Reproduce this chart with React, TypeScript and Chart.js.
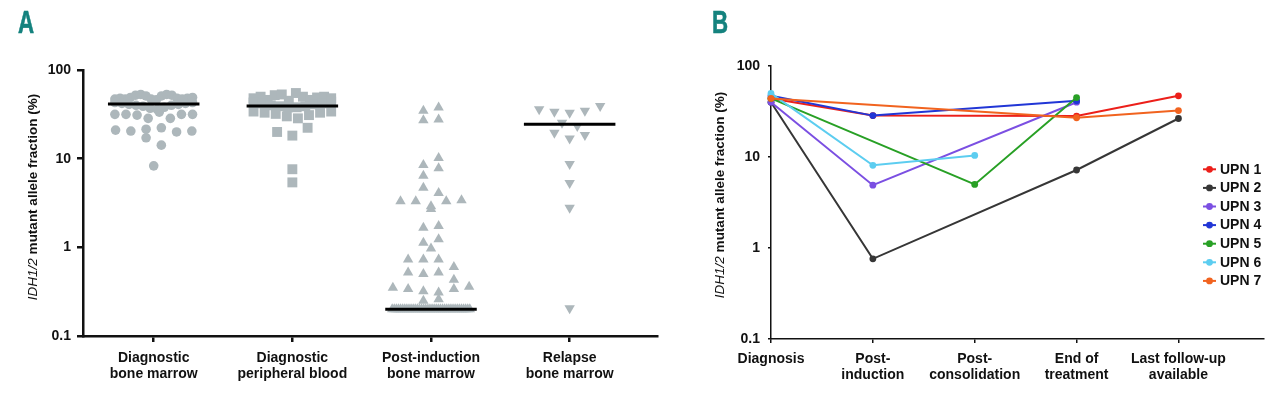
import React, { useEffect, useRef } from "react";
import { Chart, registerables } from "chart.js";

Chart.register(...registerables);

// ---------- Panel A data ----------
const groupLabels = [
  ["Diagnostic", "bone marrow"],
  ["Diagnostic", "peripheral blood"],
  ["Post-induction", "bone marrow"],
  ["Relapse", "bone marrow"],
];
const diagnosticBM = [
  47, 48, 47, 49, 52, 53, 51, 47, 46, 51, 53, 52, 48, 47, 48, 49,
  43, 42, 41, 40, 39, 37, 36, 38, 40, 41, 42, 43,
  31.6, 31.6, 31, 28.5, 33.5, 28.5, 31.6, 31.6,
  21, 20.5, 21.5, 22.3, 20, 20.5,
  17.2, 14.2,
  8.3,
];
const diagnosticPB = [
  48, 50, 46, 52, 53, 45, 55, 50, 46, 49, 50, 48,
  43, 42, 40, 39, 38, 38, 39, 41, 42, 44,
  34, 33, 32, 30, 28.5, 31, 33, 34,
  20, 18.2, 22.3,
  7.6,
  5.4,
];
const postInductionBM = [
  34.7, 37.8, 27.2, 27.6, 8.5, 10.2, 6.4, 7.8, 4.7, 4.1,
  3.3, 3.3, 2.9, 3.3, 3.4, 2.7, 1.66, 1.74, 1.13, 1.23, 0.97,
  0.73, 0.73, 0.73, 0.6, 0.52, 0.5, 0.52, 0.43,
  0.35, 0.34, 0.32, 0.31, 0.34, 0.36, 0.25, 0.26,
  0.2, 0.2, 0.2, 0.2, 0.2, 0.2, 0.2, 0.2, 0.2, 0.2,
  0.2, 0.2, 0.2, 0.2, 0.2, 0.2, 0.2, 0.2, 0.2, 0.2,
  0.2, 0.2, 0.2, 0.2, 0.2, 0.2, 0.2, 0.2, 0.2, 0.2,
  0.2, 0.2, 0.2, 0.2, 0.2, 0.2, 0.2, 0.2,
];
const relapseBM = [
  36, 33.8, 33, 34.7, 39.2, 25.4, 23.3, 19.6, 16.9, 18.5, 8.7, 5.3, 2.8, 0.205,
];
const groupMedians = [41.3, 39.2, 0.2, 24.4];
const yTickValues = [0.1, 1, 10, 100];

// ---------- Panel B data ----------
const stageLabels = [
  ["Diagnosis"],
  ["Post-", "induction"],
  ["Post-", "consolidation"],
  ["End of", "treatment"],
  ["Last follow-up", "available"],
];
const upnLabels = ["UPN 1", "UPN 2", "UPN 3", "UPN 4", "UPN 5", "UPN 6", "UPN 7"];
const upn1 = [44, 28.5, null, 28.2, 47];
const upn2 = [40, 0.76, null, 7.2, 26.5];
const upn3 = [40, 4.9, null, 40, null];
const upn4 = [47, 28.5, null, 41.5, null];
const upn5 = [44, null, 5.0, 45, null];
const upn6 = [50, 8.1, 10.4, null, null];
const upn7 = [44, null, null, 27, 32.4];
const upnSeries = [upn1, upn2, upn3, upn4, upn5, upn6, upn7];
const upnColors = ["#ec1f1a", "#363636", "#7b4fe2", "#2136d6", "#28a025", "#5ccdf0", "#f1631f"];

// ---------- styling ----------
const FONT = "'Liberation Sans', Arial, Helvetica, sans-serif";
const GRAY = "#adb7bb";
const INK = "#111111";
const TEAL = "#14827e";

// beeswarm-like layout: values of similar size share a row, centred on the category
const ROW_SPAN = 0.09; // decades
const STEP = 0.11; // category units
const MAX_W = 0.56; // category units
function swarm(values: number[], center: number) {
  const order = values.map((_, i) => i).sort((a, b) => values[b] - values[a]);
  const rows: number[][] = [];
  let cur: number[] = [];
  let top = Infinity;
  for (const i of order) {
    const l = Math.log10(values[i]);
    if (cur.length && top - l < ROW_SPAN) cur.push(i);
    else {
      if (cur.length) rows.push(cur);
      cur = [i];
      top = l;
    }
  }
  if (cur.length) rows.push(cur);
  const pts: { x: number; y: number }[] = [];
  for (const r of rows) {
    r.sort((a, b) => a - b);
    const n = r.length;
    const step = n > 1 ? Math.min(STEP, MAX_W / (n - 1)) : 0;
    r.forEach((i, k) => pts.push({ x: center + (k - (n - 1) / 2) * step, y: values[i] }));
  }
  return pts;
}

const mixedTitle = {
  id: "mixedTitle",
  afterDraw(chart: any, _args: any, opts: any) {
    const ctx = chart.ctx;
    const parts = opts.parts as { text: string; font: string }[];
    ctx.save();
    ctx.translate(opts.x, opts.y);
    ctx.rotate(-Math.PI / 2);
    const widths = parts.map((p) => {
      ctx.font = p.font;
      return ctx.measureText(p.text).width;
    });
    const total = widths.reduce((a, b) => a + b, 0);
    let x = -total / 2;
    ctx.textBaseline = "middle";
    ctx.textAlign = "left";
    ctx.fillStyle = INK;
    parts.forEach((p, i) => {
      ctx.font = p.font;
      ctx.fillText(p.text, x, 0);
      x += widths[i];
    });
    ctx.restore();
  },
};

const sideLegend = {
  id: "sideLegend",
  afterDraw(chart: any, _args: any, opts: any) {
    if (!opts || !opts.show) return;
    const ctx = chart.ctx;
    ctx.save();
    chart.data.datasets.forEach((ds: any, i: number) => {
      const y = opts.top + i * opts.gap;
      ctx.strokeStyle = ds.borderColor;
      ctx.lineWidth = 2;
      ctx.beginPath();
      ctx.moveTo(opts.x, y);
      ctx.lineTo(opts.x + 13, y);
      ctx.stroke();
      ctx.fillStyle = ds.borderColor;
      ctx.beginPath();
      ctx.arc(opts.x + 6.5, y, 3.4, 0, Math.PI * 2);
      ctx.fill();
      ctx.fillStyle = INK;
      ctx.font = `bold 14px ${FONT}`;
      ctx.textBaseline = "middle";
      ctx.textAlign = "left";
      ctx.fillText(ds.label, opts.x + 17, y + 0.5);
    });
    ctx.restore();
  },
};

const titleParts = [
  { text: "IDH1/2", font: `italic 13.5px ${FONT}` },
  { text: " mutant allele fraction (%)", font: `bold 13.5px ${FONT}` },
];

function PanelA() {
  const ref = useRef<HTMLCanvasElement>(null);
  useEffect(() => {
    const groups = [diagnosticBM, diagnosticPB, postInductionBM, relapseBM];
    const styles = ["circle", "rect", "triangle", "triangle"];
    const rotations = [0, 0, 0, 180];
    const radii = [4.8, 7, 6, 6];
    const pointSets = groups.map((vals, g) => ({
      label: groupLabels[g].join(" "),
      data: swarm(vals, g),
      pointStyle: styles[g],
      pointRotation: rotations[g],
      pointRadius: radii[g],
      pointBackgroundColor: GRAY,
      pointBorderWidth: 0,
      showLine: false,
      order: 2,
      clip: false,
    }));
    const medianSets = groupMedians.map((m, g) => ({
      label: "median",
      data: [
        { x: g - 0.33, y: m },
        { x: g + 0.33, y: m },
      ],
      showLine: true,
      borderColor: "#000",
      borderWidth: 3,
      borderCapStyle: "butt",
      pointRadius: 0,
      order: 1,
      clip: false,
    }));
    const chart = new Chart(ref.current!, {
      type: "scatter",
      data: { datasets: [...pointSets, ...medianSets] as any },
      plugins: [mixedTitle as any],
      options: {
        animation: false,
        responsive: false,
        events: [],
        layout: { padding: { left: 0, top: 70, right: 8, bottom: 0 } },
        plugins: {
          legend: { display: false },
          tooltip: { enabled: false },
          mixedTitle: { x: 33.7, y: 197, parts: titleParts },
        } as any,
        scales: {
          x: {
            type: "linear",
            min: -0.51,
            max: 3.63,
            afterBuildTicks: (s: any) => {
              s.ticks = groupLabels.map((_, i) => ({ value: i }));
            },
            afterFit: (s: any) => {
              s.height = 62;
            },
            ticks: {
              autoSkip: false,
              maxRotation: 0,
              padding: 8,
              color: INK,
              font: { family: FONT, size: 14, weight: "bold", lineHeight: 1.15 },
              callback: (v: any) => groupLabels[v as number] as any,
            },
            grid: { display: true, drawOnChartArea: false, drawTicks: true, tickLength: 6, color: INK, lineWidth: 2.5 },
            border: { display: true, color: INK, width: 2.5 },
          },
          y: {
            type: "logarithmic",
            min: 0.1,
            max: 100,
            afterBuildTicks: (s: any) => {
              s.ticks = yTickValues.map((v) => ({ value: v }));
            },
            afterFit: (s: any) => {
              s.width = 83;
            },
            ticks: {
              padding: 6,
              color: INK,
              font: { family: FONT, size: 14, weight: "bold" },
              callback: (v: any) => String(v),
            },
            grid: { display: true, drawOnChartArea: false, drawTicks: true, tickLength: 6, color: INK, lineWidth: 2.5 },
            border: { display: true, color: INK, width: 2.5 },
          },
        },
      } as any,
    });
    return () => chart.destroy();
  }, []);
  return <canvas ref={ref} width={665} height={398} style={{ position: "absolute", left: 0, top: 0, width: 665, height: 398 }} />;
}

function PanelB() {
  const ref = useRef<HTMLCanvasElement>(null);
  useEffect(() => {
    const datasets = upnSeries.map((vals, i) => ({
      label: upnLabels[i],
      data: vals.map((v, k) => ({ x: k, y: v })),
      borderColor: upnColors[i],
      backgroundColor: upnColors[i],
      borderWidth: 2,
      pointRadius: 3.4,
      pointBackgroundColor: upnColors[i],
      pointBorderWidth: 0,
      tension: 0,
      spanGaps: true,
      clip: false,
      order: upnSeries.length - i,
    }));
    const chart = new Chart(ref.current!, {
      type: "line",
      data: { datasets: datasets as any },
      plugins: [mixedTitle as any, sideLegend as any],
      options: {
        animation: false,
        responsive: false,
        events: [],
        layout: { padding: { left: 0, top: 66, right: 16, bottom: 0 } },
        plugins: {
          legend: { display: false },
          tooltip: { enabled: false },
          mixedTitle: { x: 55.6, y: 195, parts: titleParts },
          sideLegend: { show: true, x: 538, top: 169.3, gap: 18.6 },
        } as any,
        scales: {
          x: {
            type: "linear",
            min: 0,
            max: 4.84,
            afterBuildTicks: (s: any) => {
              s.ticks = stageLabels.map((_, i) => ({ value: i }));
            },
            afterFit: (s: any) => {
              s.height = 59;
            },
            ticks: {
              autoSkip: false,
              maxRotation: 0,
              padding: 8,
              color: INK,
              font: { family: FONT, size: 14, weight: "bold", lineHeight: 1.15 },
              callback: (v: any) => stageLabels[v as number] as any,
            },
            grid: { display: true, drawOnChartArea: false, drawTicks: true, tickLength: 4, color: INK, lineWidth: 1.5 },
            border: { display: true, color: INK, width: 1.5 },
          },
          y: {
            type: "logarithmic",
            min: 0.1,
            max: 100,
            afterBuildTicks: (s: any) => {
              s.ticks = yTickValues.map((v) => ({ value: v }));
            },
            afterFit: (s: any) => {
              s.width = 106;
            },
            ticks: {
              padding: 8,
              color: INK,
              font: { family: FONT, size: 14, weight: "bold" },
              callback: (v: any) => String(v),
            },
            grid: { display: true, drawOnChartArea: false, drawTicks: true, tickLength: 3, color: INK, lineWidth: 1.5 },
            border: { display: true, color: INK, width: 1.5 },
          },
        },
      } as any,
    });
    return () => chart.destroy();
  }, []);
  return <canvas ref={ref} width={615} height={398} style={{ position: "absolute", left: 665, top: 0, width: 615, height: 398 }} />;
}

const letterStyle: React.CSSProperties = {
  position: "absolute",
  top: 8,
  fontFamily: FONT,
  fontWeight: "bold",
  fontSize: 31,
  lineHeight: "30px",
  color: TEAL,
  transform: "scaleX(0.72)",
  transformOrigin: "left top",
  WebkitTextStroke: "0.6px " + TEAL,
};

export default function App() {
  return (
    <div style={{ position: "absolute", left: 0, top: 0, width: 1280, height: 398, background: "#fff", overflow: "hidden" }}>
      <PanelA />
      <PanelB />
      <div style={{ ...letterStyle, left: 18 }}>A</div>
      <div style={{ ...letterStyle, left: 712 }}>B</div>
    </div>
  );
}
